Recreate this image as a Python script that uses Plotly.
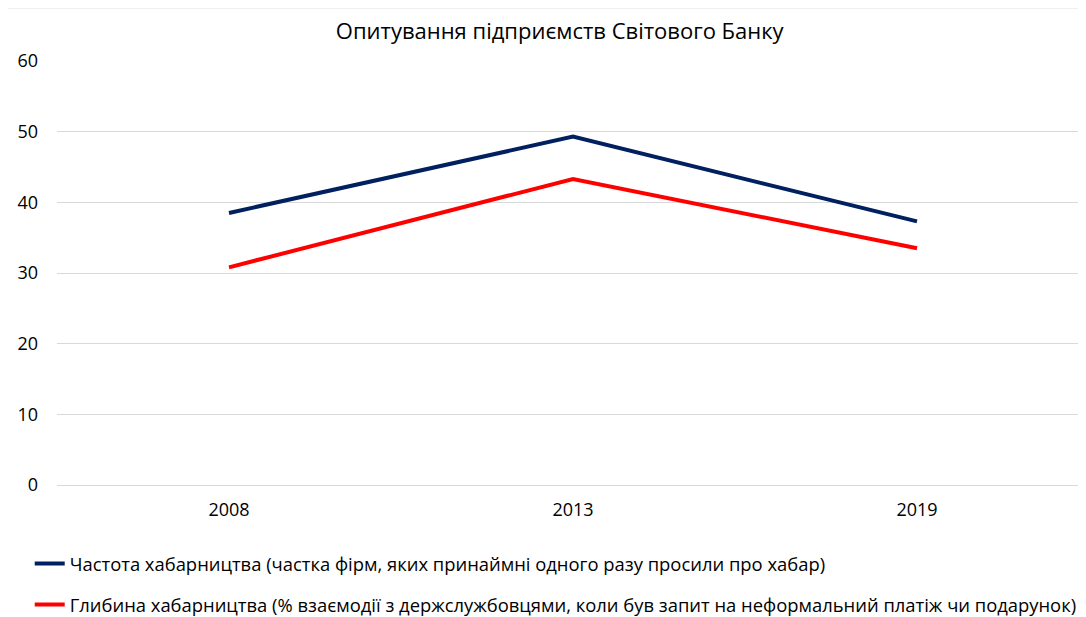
import plotly.graph_objects as go

# Опитування підприємств Світового Банку
years = ["2008", "2013", "2019"]
frequency = [38.5, 49.3, 37.3]
depth = [30.8, 43.3, 33.5]
series_names = [
    "Частота хабарництва (частка фірм, яких принаймні одного разу просили про хабар)",
    "Глибина хабарництва (% взаємодії з держслужбовцями, коли був запит на неформальний платіж чи подарунок)",
]
y_ticks = [0, 10, 20, 30, 40, 50, 60]

FONT = "Open Sans, Noto Sans, sans-serif"

fig = go.Figure()
fig.add_trace(go.Scatter(
    x=years, y=frequency, name=series_names[0], mode="lines",
    line=dict(color="#002060", width=4), legendgroup="a",
))
fig.add_trace(go.Scatter(
    x=years, y=depth, name=series_names[1], mode="lines",
    line=dict(color="#FF0000", width=4), legendgroup="b",
))

# the page body adds an 8px offset, so margins are shifted to compensate
fig.update_layout(
    width=1086, height=609,
    title=dict(text="Опитування підприємств Світового Банку", x=0.508, xanchor="center",
               y=0.962, yanchor="middle", font=dict(size=22, color="black", family=FONT)),
    font=dict(family=FONT, color="black", size=18),
    xaxis=dict(type="category", range=[-0.5, 2.5], showgrid=False, showline=False,
               ticks="", ticklabelstandoff=12, tickangle=0, tickfont=dict(size=18)),
    yaxis=dict(range=[0, 60], tickvals=y_ticks, showgrid=True, gridcolor="#d9d9d9",
               gridwidth=1, zeroline=True, zerolinecolor="#d9d9d9", zerolinewidth=1,
               showline=False, ticks="", ticklabelstandoff=18, tickfont=dict(size=18)),
    legend=dict(orientation="v", xref="container", yref="container", x=0.02, y=0.054,
                xanchor="left", yanchor="middle", tracegroupgap=14,
                font=dict(size=18.4, family=FONT), bgcolor="rgba(0,0,0,0)"),
    margin=dict(l=49, r=5, t=53, b=132, autoexpand=False),
    paper_bgcolor="white", plot_bgcolor="white",
    shapes=[dict(type="line", xref="paper", yref="paper", x0=-0.048, x1=1.05,
                 y0=1.125, y1=1.125, line=dict(color="#e0e0e0", width=1))],
)

fig.write_html("out.html")
